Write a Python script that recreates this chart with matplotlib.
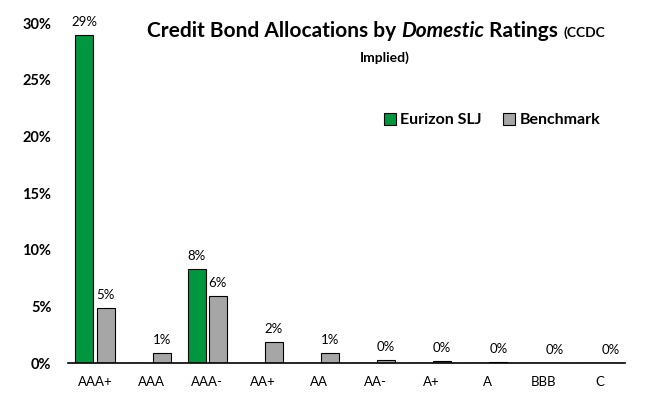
import matplotlib
matplotlib.use("Agg")
import matplotlib.pyplot as plt
import numpy as np
from matplotlib.ticker import FuncFormatter

ratings = ["AAA+", "AAA", "AAA-", "AA+", "AA", "AA-", "A+", "A", "BBB", "C"]
eurizon = [29.0, 0.0, 8.3, 0.0, 0.0, 0.0, 0.0, 0.0, 0.0, 0.0]
benchmark = [4.9, 0.9, 5.9, 1.9, 0.9, 0.3, 0.2, 0.1, 0.0, 0.0]
y_ticks = [0, 5, 10, 15, 20, 25, 30]

GREEN = "#00963F"
GREY = "#A6A6A6"
FONT = "Lato"

plt.rcParams["font.family"] = [FONT, "DejaVu Sans"]

fig = plt.figure(figsize=(6.49, 3.93), dpi=100)
ax = fig.add_axes([0.105, 0.076, 0.858, 0.865])

x = np.arange(len(ratings))
w = 0.32
off = 0.19
b1 = ax.bar(x - off, eurizon, w, color=GREEN, edgecolor="black", linewidth=0.8,
            label="Eurizon SLJ", zorder=2)
b2 = ax.bar(x + off, benchmark, w, color=GREY, edgecolor="black", linewidth=0.8,
            label="Benchmark", zorder=2)

for rect, v in zip(b1, eurizon):
    if v > 0:
        ax.annotate(f"{v:.0f}%", (rect.get_x() + rect.get_width() / 2, v),
                    xytext=(0, 5), textcoords="offset points",
                    ha="center", va="bottom", fontsize=9.5)
for rect, v in zip(b2, benchmark):
    ax.annotate(f"{v:.0f}%", (rect.get_x() + rect.get_width() / 2, v),
                xytext=(0, 5), textcoords="offset points",
                ha="center", va="bottom", fontsize=9.5)

ax.set_xlim(-0.48, 9.45)
ax.set_ylim(0, 30)
ax.set_yticks(y_ticks)
ax.yaxis.set_major_formatter(FuncFormatter(lambda v, p: f"{v:.0f}%"))
ax.set_xticks(x)
ax.set_xticklabels(ratings, fontsize=9.5)
for lbl in ax.get_yticklabels():
    lbl.set_fontweight("bold")
    lbl.set_fontsize(10.5)
ax.tick_params(axis="both", length=0)
ax.tick_params(axis="x", pad=9)
ax.tick_params(axis="y", pad=12)
for s in ["top", "right", "left"]:
    ax.spines[s].set_visible(False)
ax.spines["bottom"].set_linewidth(1.2)

leg = ax.legend(loc="upper left", bbox_to_anchor=(0.555, 0.755), ncol=2, frameon=False,
                prop={"family": FONT, "weight": "bold", "size": 11.5},
                handlelength=0.75, handleheight=0.75, handletextpad=0.3,
                columnspacing=1.3, borderaxespad=0)

# Title built from pieces so that only "Domestic" is italic
fig.canvas.draw()
renderer = fig.canvas.get_renderer()
pieces = [
    ("Credit Bond Allocations by ", dict(fontsize=15, fontweight="bold")),
    ("Domestic", dict(fontsize=15, fontweight="bold", fontstyle="italic")),
    (" Ratings ", dict(fontsize=15, fontweight="bold")),
    ("(CCDC", dict(fontsize=10, fontweight="bold")),
]
texts = []
for s, kw in pieces:
    t = fig.text(0.0, 0.0, s, ha="left", va="baseline", **kw)
    texts.append(t)
widths = [t.get_window_extent(renderer).width for t in texts]
total = sum(widths)
fig_w = fig.bbox.width
center_px = 376
y_base = 1 - 37 / 393
cur = center_px - total / 2
for t, wd in zip(texts, widths):
    t.set_position((cur / fig_w, y_base))
    cur += wd
fig.text(385 / fig_w, 1 - 62 / 393, "Implied)", ha="center", va="baseline",
         fontsize=10, fontweight="bold")

fig.savefig("out.png", dpi=100)
